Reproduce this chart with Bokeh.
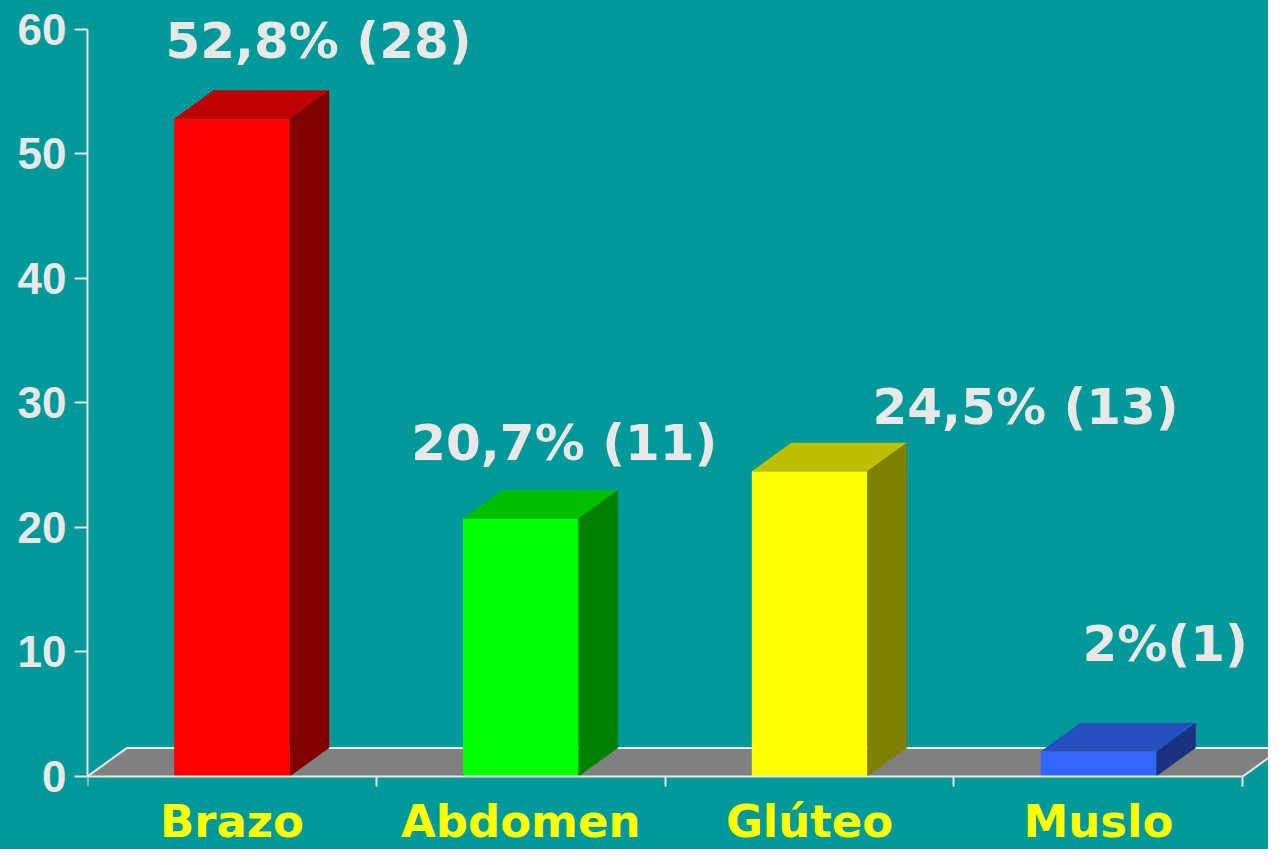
from bokeh.plotting import figure
from bokeh.models import LinearAxis, FixedTicker, CustomJSTickFormatter, ColumnDataSource, Range1d
from bokeh.core.properties import value
from bokeh.embed import file_html
from bokeh.resources import INLINE

# ---- data ----
categories = ["Brazo", "Abdomen", "Glúteo", "Muslo"]
percentages = [52.8, 20.7, 24.5, 2.0]
counts = [28, 11, 13, 1]
labels = ["52,8% (28)", "20,7% (11)", "24,5% (13)", "2%(1)"]
y_ticks = [0, 10, 20, 30, 40, 50, 60]

# ---- style ----
front_colors = ["#FF0000", "#00FF00", "#FFFF00", "#3366FF"]
top_colors = ["#BF0000", "#00BF00", "#BFBF00", "#2650C0"]
side_colors = ["#800000", "#008000", "#808000", "#1A3380"]
label_x = [0.270, 1.121, 2.718, 3.445]      # label anchor (data x, left aligned)
label_y = [59.06, 26.76, 29.67, 10.60]      # label baseline (data y)
BG = "#009999"
FG = "#E8E8E8"
BAR_W = 0.40
DX = 0.1368          # depth offset in x data units
DY = 2.285           # depth offset in y data units

n = len(categories)
centers = [i + 0.5 for i in range(n)]

p = figure(width=1268, height=849,
           x_range=Range1d(0, 4.0889),
           y_range=Range1d(-5.87, 62.29),
           output_backend="svg", toolbar_location=None,
           x_axis_type=None, y_axis_type=None,
           min_border_left=87, min_border_right=0, min_border_top=0, min_border_bottom=0,
           background_fill_color=BG, border_fill_color=BG, outline_line_color=None)
p.styles = {"background-color": BG}
p.grid.visible = False

# floor
p.patch([0, n, n + DX, DX], [0, 0, DY, DY], fill_color="#808080", line_color=None)
p.multi_line([[0, DX], [DX, n + DX], [n, n + DX]], [[0, DY], [DY, DY], [0, DY]],
             line_color=FG, line_width=2)

# bars
lefts = [c - BAR_W / 2 for c in centers]
rights = [c + BAR_W / 2 for c in centers]
p.quad(left=lefts, right=rights, bottom=[0] * n, top=percentages,
       fill_color=front_colors, line_color=None)
top_xs = [[l, l + DX, r + DX, r] for l, r in zip(lefts, rights)]
top_ys = [[v, v + DY, v + DY, v] for v in percentages]
p.patches(top_xs, top_ys, fill_color=top_colors, line_color=None)
side_xs = [[r, r, r + DX, r + DX] for r in rights]
side_ys = [[0, v, v + DY, DY] for v in percentages]
p.patches(side_xs, side_ys, fill_color=side_colors, line_color=None)

# value labels
src = ColumnDataSource(dict(x=label_x, y=label_y, t=labels))
p.text(x="x", y="y", text="t", source=src, text_color=FG,
       text_font=value("DejaVu Sans"), text_font_style="bold", text_font_size="50px",
       text_align="left", text_baseline="alphabetic")

# y axis
yax = LinearAxis(ticker=FixedTicker(ticks=y_ticks), bounds=(0, 60))
yax.axis_line_color = FG
yax.axis_line_width = 2
yax.major_tick_line_color = FG
yax.major_tick_line_width = 2
yax.major_tick_out = 13
yax.major_tick_in = 0
yax.minor_tick_line_color = None
yax.major_label_standoff = 8
yax.major_label_text_color = FG
yax.major_label_text_font = "Liberation Sans"
yax.major_label_text_font_style = "bold"
yax.major_label_text_font_size = "44px"
p.add_layout(yax, "left")

# x axis: boundary ticks
xax = LinearAxis(ticker=FixedTicker(ticks=list(range(n + 1))), bounds=(0, n), fixed_location=0)
xax.axis_line_color = FG
xax.axis_line_width = 2
xax.major_tick_line_color = FG
xax.major_tick_line_width = 2
xax.major_tick_out = 10
xax.major_tick_in = 0
xax.minor_tick_line_color = None
xax.major_label_text_font_size = "0px"
xax.major_label_text_alpha = 0
p.add_layout(xax, "below")

# x axis: category labels
xlab = LinearAxis(ticker=FixedTicker(ticks=centers), fixed_location=0,
                  formatter=CustomJSTickFormatter(args=dict(labels=categories),
                                                  code="return labels[Math.round(tick - 0.5)] || ''"))
xlab.axis_line_color = None
xlab.major_tick_line_color = None
xlab.minor_tick_line_color = None
xlab.major_tick_out = 0
xlab.major_tick_in = 0
xlab.major_label_standoff = 19
xlab.major_label_text_color = "#FFFF00"
xlab.major_label_text_font = "DejaVu Sans"
xlab.major_label_text_font_style = "bold"
xlab.major_label_text_font_size = "45px"
p.add_layout(xlab, "below")

open("out.html", "w").write(file_html(p, INLINE))
